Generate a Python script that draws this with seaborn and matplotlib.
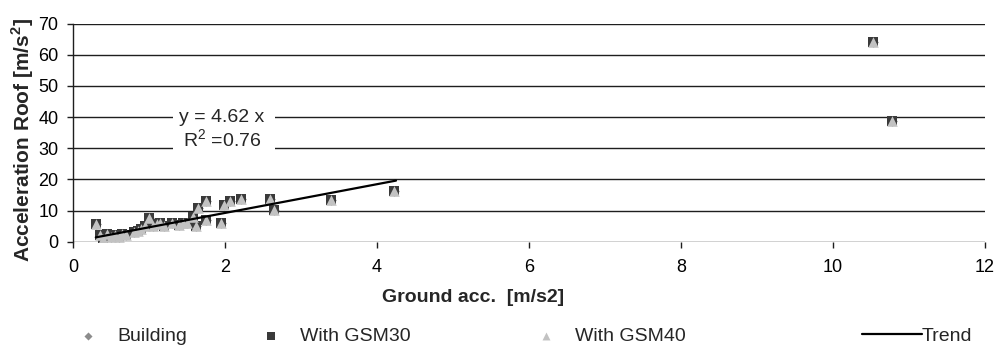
import matplotlib
matplotlib.use("Agg")
import matplotlib.pyplot as plt
import seaborn as sns
import pandas as pd
from matplotlib.patches import Rectangle

# ---- data ----
ground_acc = [0.30, 0.35, 0.40, 0.45, 0.50, 0.55, 0.60, 0.65, 0.70, 0.80,
              0.85, 0.90, 0.95, 1.00, 1.05, 1.10, 1.15, 1.20, 1.30, 1.40,
              1.45, 1.50, 1.58, 1.62, 1.65, 1.75, 1.75, 1.95, 1.99, 2.06,
              2.21, 2.59, 2.65, 3.39, 4.23, 10.52, 10.78]
roof_building = [5.6, 2.2, 1.0, 2.4, 1.5, 2.0, 1.6, 2.6, 2.2, 3.0,
                 3.5, 4.0, 5.0, 7.6, 5.0, 5.6, 6.0, 5.0, 6.0, 5.5,
                 6.0, 6.0, 8.0, 5.1, 10.9, 13.2, 6.9, 6.1, 11.9, 13.2,
                 13.6, 13.6, 10.2, 13.3, 16.3, 64.0, 38.8]
roof_gsm30 = list(roof_building)
roof_gsm40 = list(roof_building)
trend_x = [0.30, 4.25]
trend_y = [1.39, 19.6]
x_ticks = [0, 2, 4, 6, 8, 10, 12]
y_ticks = [0, 10, 20, 30, 40, 50, 60, 70]

sns.set_theme(style="white")
plt.rcParams['font.family'] = ['Liberation Sans', 'DejaVu Sans']

W, H = 994, 349
fig = plt.figure(figsize=(W / 100, H / 100), dpi=100)
ax = fig.add_axes([73 / W, 1 - 241.7 / H, 912 / W, 218.2 / H])

df_b = pd.DataFrame({"x": ground_acc, "y": roof_building})
df_30 = pd.DataFrame({"x": ground_acc, "y": roof_gsm30})
df_40 = pd.DataFrame({"x": ground_acc, "y": roof_gsm40})
df_t = pd.DataFrame({"x": trend_x, "y": trend_y})

sns.scatterplot(data=df_b, x="x", y="y", marker="D", color="#8c8c8c", s=30,
                linewidth=0, ax=ax, zorder=3, label="Building")
sns.scatterplot(data=df_30, x="x", y="y", marker="s", color="#3a3a3a", s=52,
                linewidth=0, ax=ax, zorder=4, label="With GSM30")
sns.scatterplot(data=df_40, x="x", y="y", marker="^", color="#c2c2c2", s=58,
                linewidth=0, ax=ax, zorder=5, label="With GSM40")
sns.lineplot(data=df_t, x="x", y="y", color="black", linewidth=1.6, ax=ax,
             zorder=6, label="Trend")

FS = 14
TFS = 13
ax.set_xlim(0, 12)
ax.set_ylim(0, 70)
ax.set_xticks(x_ticks)
ax.set_yticks(y_ticks)
ax.set_xticklabels([str(v) for v in x_ticks], fontsize=TFS)
ax.set_yticklabels([str(v) for v in y_ticks], fontsize=TFS)
ax.yaxis.grid(True, color="#1e1e1e", linewidth=1.0)
ax.set_axisbelow(True)
for s in ["top", "right", "bottom"]:
    ax.spines[s].set_visible(False)
ax.spines["left"].set_color("#1e1e1e")
ax.spines["left"].set_linewidth(1.0)
ax.tick_params(axis="both", which="both", direction="out", length=4.5,
               width=1.0, color="#1e1e1e", labelcolor="black")
ax.tick_params(axis="x", bottom=True, pad=8)
ax.tick_params(axis="y", left=True, pad=6)

ax.set_xlabel("Ground acc.  [m/s2]", fontsize=FS, fontweight="bold")
ax.xaxis.label.set_va("center")
ax.xaxis.set_label_coords((473 - 73) / 912, -(297 - 241.7) / 218.2)
ax.set_ylabel("Acceleration Roof [m/s$^{\\mathregular{2}}$]", fontsize=15,
              fontweight="bold")
ax.yaxis.label.set_va("center")
ax.yaxis.set_label_coords((22.5 - 73) / 912, (241.7 - 140) / 218.2)

# trend label box
ax.add_patch(Rectangle((1.316, 28.5), 1.342, 16.5, facecolor="white",
                       edgecolor="none", zorder=2))
ax.text(1.96, 39.7, "y = 4.62 x", ha="center", va="center", fontsize=FS, zorder=7)
ax.text(1.96, 32.6, "R$^{\\mathregular{2}}$ =0.76", ha="center", va="center",
        fontsize=FS, zorder=7)

# legend entries placed individually
handles, labels = ax.get_legend_handles_labels()
ax.get_legend().remove()
em = FS * 100 / 72
anchors = {"Building": 88 - em / 2, "With GSM30": 271 - em / 2,
           "With GSM40": 546 - em / 2, "Trend": 862}
ly = 1 - 336 / H
for h, l in zip(handles, labels):
    if l == "Trend":
        kw = dict(handlelength=60 / em, handletextpad=0.0)
    else:
        kw = dict(handlelength=1.0, handletextpad=1.0, markerscale=0.75)
    fig.legend([h], [l], loc="center left", bbox_to_anchor=(anchors[l] / W, ly),
               frameon=False, fontsize=FS, borderaxespad=0, borderpad=0, **kw)

fig.savefig("out.png", dpi=100)
